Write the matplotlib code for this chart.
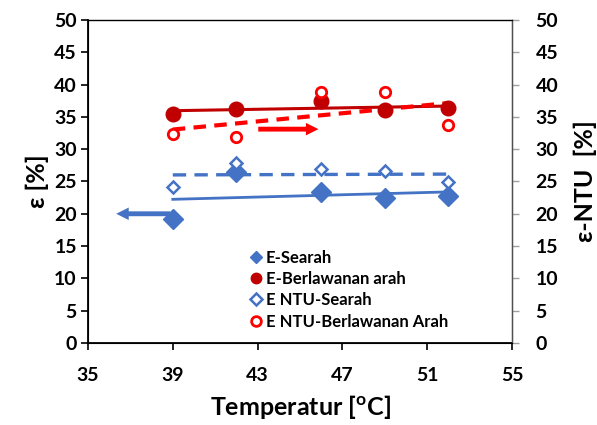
import numpy as np
import matplotlib
matplotlib.use('Agg')
import matplotlib.pyplot as plt

plt.rcParams['font.family'] = ['Lato', 'DejaVu Sans']
plt.rcParams['font.weight'] = 'bold'

# Temperature (x) and effectiveness values
temp = [39, 42, 46, 49, 52]
e_searah = [19.2, 26.4, 23.3, 22.4, 22.8]
e_berlawanan = [35.5, 36.2, 37.4, 36.1, 36.4]
ntu_searah = [24.1, 27.9, 26.9, 26.6, 24.9]
ntu_berlawanan = [32.4, 31.9, 38.8, 38.8, 33.7]

labels = ['E-Searah', 'E-Berlawanan arah', 'E NTU-Searah', 'E NTU-Berlawanan Arah']
xticks = [35, 39, 43, 47, 51, 55]
yticks = [0, 5, 10, 15, 20, 25, 30, 35, 40, 45, 50]

blue = '#4472C4'
dred = '#C00000'
red = '#FF0000'

fig = plt.figure(figsize=(5.97, 4.25), dpi=100)
ax = fig.add_axes([0.1474, 0.193, 0.7102, 0.76])

x = np.array(temp, dtype=float)
xl = np.array([x.min(), x.max()])

# Linear trend lines (Excel-style)
def trend(y):
    p = np.polyfit(x, np.array(y), 1)
    return np.polyval(p, xl)

ax.plot(xl, trend(e_searah), color=blue, lw=2, zorder=2)
ax.plot(xl, trend(e_berlawanan), color=dred, lw=2.2, zorder=2)
ax.plot(xl, trend(ntu_searah), color=blue, lw=2.4, ls=(0, (4, 2.5)), zorder=2)
ax.plot(xl, trend(ntu_berlawanan), color=red, lw=3, ls=(0, (3, 2)), zorder=2)

ax.plot(temp, e_searah, 'D', color=blue, ms=10, ls='none', label=labels[0], zorder=3)
ax.plot(temp, e_berlawanan, 'o', color=dred, ms=10.5, ls='none', label=labels[1], zorder=3)
ax.plot(temp, ntu_searah, 'D', mfc='white', mec=blue, mew=1.8, ms=6.5, ls='none',
        label=labels[2], zorder=4)
ax.plot(temp, ntu_berlawanan, 'o', mfc='white', mec=red, mew=2, ms=7.5, ls='none',
        label=labels[3], zorder=4)

# Direction arrows
ax.annotate('', xy=(36.2, 20), xytext=(39.0, 20),
            arrowprops=dict(arrowstyle='simple,head_length=0.9,head_width=0.9,tail_width=0.35',
                            color=blue, lw=0))
ax.annotate('', xy=(46.0, 33.1), xytext=(42.9, 33.1),
            arrowprops=dict(arrowstyle='simple,head_length=0.9,head_width=0.9,tail_width=0.35',
                            color=red, lw=0))

ax.set_xlim(35, 55)
ax.set_ylim(0, 50)
ax.set_xticks(xticks)
ax.set_yticks(yticks)
ax.tick_params(axis='both', labelsize=14, direction='out', length=5, width=1.2, color='black')
ax.tick_params(axis='x', pad=12)
ax.tick_params(axis='y', pad=3)
for sp in ['left', 'bottom', 'top']:
    ax.spines[sp].set_linewidth(1.3)
    ax.spines[sp].set_color('black')
ax.spines['top'].set_linewidth(1.0)
ax.spines['top'].set_color('#404040')

ax.set_xlabel('Temperatur [$^{\\mathregular{o}}$C]', fontsize=18, fontweight='bold', labelpad=7)
ax.set_ylabel('\u03b5 [%]', fontsize=18, fontweight='bold', labelpad=4)

ax2 = ax.twinx()
ax2.set_ylim(0, 50)
ax2.set_yticks(yticks)
ax2.tick_params(axis='y', labelsize=14, direction='out', length=5, width=1, color='#a0a0a0', pad=12)
ax2.spines['right'].set_color('#505050')
ax2.spines['right'].set_linewidth(1.0)
ax2.set_ylabel('\u03b5-NTU  [%]', fontsize=18, fontweight='bold', labelpad=11)

leg = ax.legend(loc='upper left', bbox_to_anchor=(0.36, 0.31), frameon=False,
                fontsize=12, handletextpad=0.0, labelspacing=0.32, handlelength=1.1,
                borderaxespad=0)
for t in leg.get_texts():
    t.set_fontweight('bold')
for h, s in zip(leg.legend_handles, [6.5, 7.5, 6, 7]):
    h.set_markersize(s)

fig.savefig('out.png', dpi=100)
